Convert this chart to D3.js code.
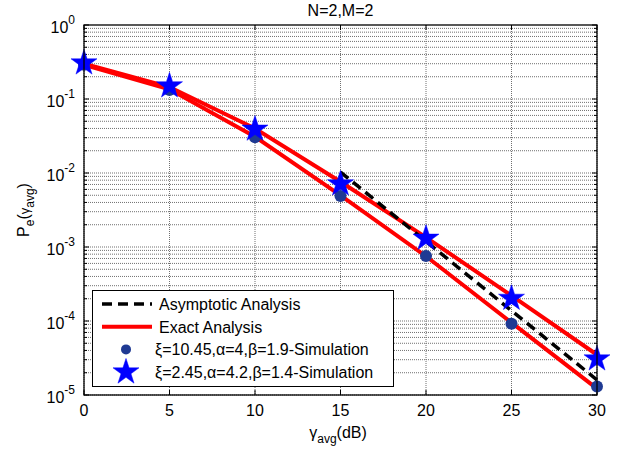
<!DOCTYPE html>
<html>
<head>
<meta charset="utf-8">
<script src="https://cdn.jsdelivr.net/npm/d3@7"></script>
<style>
  body { margin: 0; background: #fff; }
  svg { font-family: "Liberation Sans", Arial, sans-serif; }
</style>
</head>
<body>
<div id="chart"></div>
<script>
// Data
const snr = [0, 5, 10, 15, 20, 25, 30];
const exactA = [0.29, 0.135, 0.031, 0.0050, 0.00075, 0.000095, 0.0000122];   // xi=10.45 curve
const exactB = [0.30, 0.145, 0.040, 0.0076, 0.00135, 0.00022, 0.000035];     // xi=2.45 curve
const simA = [0.29, 0.132, 0.0303, 0.0049, 0.000755, 0.000092, 0.000013];
const simB = [0.306, 0.15, 0.039, 0.0071, 0.00131, 0.000202, 0.0000306];
const asymSnr = [15, 20, 25, 30];
const asymVals = [0.0103, 0.00119, 0.000138, 0.000016];
const xTicks = [0, 5, 10, 15, 20, 25, 30];
const yDecades = [0, -1, -2, -3, -4, -5];

const width = 619, height = 453;
const margin = { left: 84, right: 22, top: 25, bottom: 58 };

const svg = d3.select("#chart").append("svg")
  .attr("width", width).attr("height", height);

const x = d3.scaleLinear().domain([0, 30]).range([margin.left, width - margin.right]);
const y = d3.scaleLog().domain([1e-5, 1]).range([height - margin.bottom, margin.top]);

const x0 = x.range()[0], x1 = x.range()[1];
const yTop = y.range()[1], yBot = y.range()[0];

// minor + major log values
const minorVals = [];
yDecades.slice(1).forEach(d => {
  for (let k = 1; k <= 9; k++) minorVals.push(k * Math.pow(10, d));
});

// grid
const grid = svg.append("g");
grid.selectAll(".hg").data(minorVals).enter().append("line")
  .attr("x1", x0).attr("x2", x1)
  .attr("y1", d => y(d)).attr("y2", d => y(d))
  .attr("stroke", "#707070").attr("stroke-width", 1).attr("stroke-dasharray", "1,1");
grid.selectAll(".vg").data(xTicks).enter().append("line")
  .attr("x1", d => x(d)).attr("x2", d => x(d))
  .attr("y1", yTop).attr("y2", yBot)
  .attr("stroke", "#707070").attr("stroke-width", 1).attr("stroke-dasharray", "1,1");

// ticks (inward, both sides)
const ticks = svg.append("g").attr("stroke", "#000").attr("stroke-width", 1);
minorVals.concat([1]).forEach(v => {
  const isMajor = Math.abs(Math.log10(v) - Math.round(Math.log10(v))) < 1e-9;
  const len = isMajor ? 5 : 3;
  ticks.append("line").attr("x1", x0).attr("x2", x0 + len).attr("y1", y(v)).attr("y2", y(v));
  ticks.append("line").attr("x1", x1).attr("x2", x1 - len).attr("y1", y(v)).attr("y2", y(v));
});
xTicks.forEach(v => {
  ticks.append("line").attr("x1", x(v)).attr("x2", x(v)).attr("y1", yBot).attr("y2", yBot - 5);
  ticks.append("line").attr("x1", x(v)).attr("x2", x(v)).attr("y1", yTop).attr("y2", yTop + 5);
});

// curves
const line = d3.line().x(d => x(d[0])).y(d => y(d[1]));
const curves = svg.append("g");
curves.append("path").datum(snr.map((s, i) => [s, exactA[i]]))
  .attr("d", line).attr("fill", "none").attr("stroke", "#ff0000").attr("stroke-width", 4);
curves.append("path").datum(snr.map((s, i) => [s, exactB[i]]))
  .attr("d", line).attr("fill", "none").attr("stroke", "#ff0000").attr("stroke-width", 4);
curves.append("path").datum(asymSnr.map((s, i) => [s, asymVals[i]]))
  .attr("d", line).attr("fill", "none").attr("stroke", "#000").attr("stroke-width", 3.5)
  .attr("stroke-dasharray", "10,6");

// markers
const star = d3.symbol().type(d3.symbolStar).size(210);
const dotColor = "#1f3a93";
curves.selectAll(".dotA").data(snr.map((s, i) => [s, simA[i]])).enter().append("circle")
  .attr("cx", d => x(d[0])).attr("cy", d => y(d[1])).attr("r", 6).attr("fill", dotColor);
curves.selectAll(".starB").data(snr.map((s, i) => [s, simB[i]])).enter().append("path")
  .attr("d", star)
  .attr("transform", d => `translate(${x(d[0])},${y(d[1])})`)
  .attr("fill", "#0000ff").attr("stroke", "#0000ff").attr("stroke-width", 0.5);

// frame
svg.append("rect").attr("x", x0).attr("y", yTop).attr("width", x1 - x0).attr("height", yBot - yTop)
  .attr("fill", "none").attr("stroke", "#000").attr("stroke-width", 1.3);

// tick labels
const labels = svg.append("g").attr("font-size", 16).attr("fill", "#000");
xTicks.forEach(v => {
  labels.append("text").attr("x", x(v)).attr("y", yBot + 21)
    .attr("text-anchor", "middle").text(v);
});
yDecades.forEach(d => {
  const t = labels.append("text").attr("x", x0 - 9).attr("y", y(Math.pow(10, d)) + 8)
    .attr("text-anchor", "end");
  t.append("tspan").text("10");
  t.append("tspan").attr("dy", -9).attr("font-size", 12).text(d);
});

// title
svg.append("text").attr("x", (x0 + x1) / 2).attr("y", 16).attr("text-anchor", "middle")
  .attr("font-size", 16).text("N=2,M=2");

// x label
const xl = svg.append("text").attr("x", 338).attr("y", 438).attr("text-anchor", "middle").attr("font-size", 16);
xl.append("tspan").text("γ");
xl.append("tspan").attr("dy", 5).attr("font-size", 12).text("avg");
xl.append("tspan").attr("dy", -5).text("(dB)");

// y label
const yl = svg.append("text").attr("transform", "translate(29,210) rotate(-90)")
  .attr("text-anchor", "middle").attr("font-size", 16);
yl.append("tspan").text("P");
yl.append("tspan").attr("dy", 5).attr("font-size", 12).text("e");
yl.append("tspan").attr("dy", -5).text("(");
yl.append("tspan").attr("font-size", 13).text("γ");
yl.append("tspan").attr("dy", 5).attr("font-size", 12).text("avg");
yl.append("tspan").attr("dy", -5).text(")");

// legend
const lg = svg.append("g");
lg.append("rect").attr("x", 92.5).attr("y", 290.5).attr("width", 301).attr("height", 96)
  .attr("fill", "#fff").attr("stroke", "#000").attr("stroke-width", 1);
const legendItems = [
  { type: "dash", label: "Asymptotic Analysis" },
  { type: "line", label: "Exact Analysis" },
  { type: "dot", label: "ξ=10.45,α=4,β=1.9-Simulation" },
  { type: "star", label: "ξ=2.45,α=4.2,β=1.4-Simulation" }
];
legendItems.forEach((it, i) => {
  const cy = 304 + i * 22.7;
  if (it.type === "dash") {
    lg.append("line").attr("x1", 102).attr("x2", 152).attr("y1", cy).attr("y2", cy)
      .attr("stroke", "#000").attr("stroke-width", 3.5).attr("stroke-dasharray", "10,6");
  } else if (it.type === "line") {
    lg.append("line").attr("x1", 102).attr("x2", 152).attr("y1", cy).attr("y2", cy)
      .attr("stroke", "#ff0000").attr("stroke-width", 4);
  } else if (it.type === "dot") {
    lg.append("circle").attr("cx", 126).attr("cy", cy).attr("r", 5).attr("fill", dotColor);
  } else {
    lg.append("path").attr("d", star).attr("transform", `translate(126,${cy})`)
      .attr("fill", "#0000ff").attr("stroke", "#0000ff").attr("stroke-width", 0.5);
  }
  lg.append("text").attr("x", it.type === "dash" || it.type === "line" ? 159 : 155)
    .attr("y", cy + 6).attr("font-size", 16).text(it.label);
});
</script>
</body>
</html>
